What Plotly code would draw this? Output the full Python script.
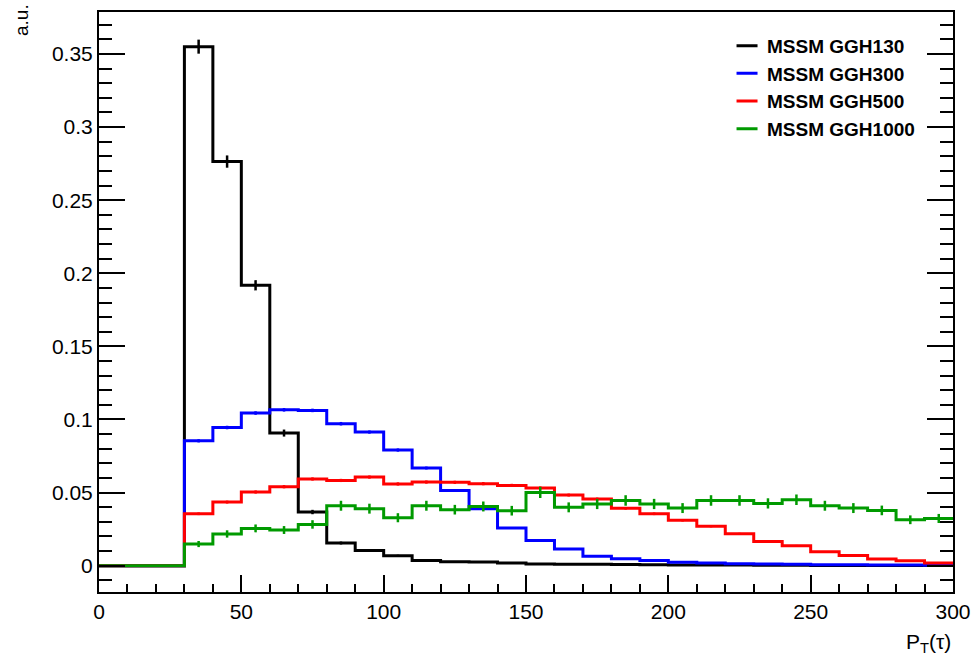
import plotly.graph_objects as go

# Bin edges (GeV): 30 bins of width 10 from 0 to 300
bin_edges = list(range(0, 310, 10))
bin_centers = [e + 5 for e in bin_edges[:-1]]

names = ["MSSM GGH130", "MSSM GGH300", "MSSM GGH500", "MSSM GGH1000"]
colors = ["#000000", "#0000ff", "#ff0000", "#009a00"]

ggh130 = [0, 0, 0, 0.355, 0.2764, 0.1918, 0.0907, 0.0367, 0.0155, 0.0103,
          0.0068, 0.0036, 0.0027, 0.0025, 0.0018, 0.0012, 0.0010, 0.0009, 0.0008, 0.0006,
          0.0005, 0.0004, 0.0004, 0.0003, 0.0003, 0.0002, 0.0002, 0.0002, 0.0001, 0.0001]
ggh130_err = [0, 0, 0, 0.0048, 0.0042, 0.0035, 0.0024, 0.0015, 0.0010, 0.0008,
              0.0007, 0.0005, 0.0004, 0.0004, 0.0003, 0.0003, 0.0002, 0.0002, 0.0002, 0.0002,
              0.0002, 0.0001, 0.0001, 0.0001, 0.0001, 0.0001, 0.0001, 0.0001, 0.0001, 0.0001]

ggh300 = [0, 0, 0, 0.0854, 0.0945, 0.1044, 0.1066, 0.1062, 0.0971, 0.0914,
          0.0791, 0.0668, 0.0515, 0.0390, 0.0258, 0.0173, 0.0114, 0.0064, 0.0048, 0.0036,
          0.0023, 0.0018, 0.0014, 0.0011, 0.0009, 0.0007, 0.0006, 0.0005, 0.0004, 0.0003]
ggh300_err = [0, 0, 0, 0.0011, 0.0012, 0.0012, 0.0012, 0.0012, 0.0012, 0.0011,
              0.0011, 0.0010, 0.0009, 0.0008, 0.0006, 0.0005, 0.0004, 0.0003, 0.0002, 0.0002,
              0.0002, 0.0002, 0.0001, 0.0001, 0.0001, 0.0001, 0.0001, 0.0001, 0.0001, 0.0001]

ggh500 = [0, 0, 0, 0.0355, 0.0435, 0.0504, 0.0540, 0.0593, 0.0583, 0.0606,
          0.0559, 0.0572, 0.0570, 0.0561, 0.0549, 0.0532, 0.0483, 0.0456, 0.0392, 0.0355,
          0.0310, 0.0269, 0.0219, 0.0166, 0.0137, 0.0096, 0.0070, 0.0046, 0.0034, 0.0018]
ggh500_err = [0, 0, 0, 0.0009, 0.0010, 0.0011, 0.0011, 0.0011, 0.0011, 0.0011,
              0.0011, 0.0011, 0.0011, 0.0011, 0.0011, 0.0010, 0.0010, 0.0010, 0.0009, 0.0009,
              0.0008, 0.0007, 0.0006, 0.0005, 0.0005, 0.0004, 0.0003, 0.0003, 0.0002, 0.0002]

ggh1000 = [0, 0, 0, 0.0148, 0.0217, 0.0255, 0.0244, 0.0282, 0.0410, 0.0390,
           0.0328, 0.0410, 0.0383, 0.0405, 0.0376, 0.0501, 0.0399, 0.0422, 0.0446, 0.0422,
           0.0394, 0.0446, 0.0446, 0.0426, 0.0451, 0.0410, 0.0394, 0.0378, 0.0314, 0.0323]
ggh1000_err = [0, 0, 0, 0.0021, 0.0025, 0.0027, 0.0027, 0.0029, 0.0034, 0.0034,
               0.0031, 0.0034, 0.0033, 0.0034, 0.0033, 0.0038, 0.0034, 0.0035, 0.0036, 0.0035,
               0.0034, 0.0036, 0.0036, 0.0035, 0.0036, 0.0034, 0.0034, 0.0033, 0.0030, 0.0031]

series = [ggh130, ggh300, ggh500, ggh1000]
errors = [ggh130_err, ggh300_err, ggh500_err, ggh1000_err]

y_tickvals = [0, 0.05, 0.1, 0.15, 0.2, 0.25, 0.3, 0.35]
y_ticktext = ["0", "0.05", "0.1", "0.15", "0.2", "0.25", "0.3", "0.35"]
x_tickvals = [0, 50, 100, 150, 200, 250, 300]
x_ticktext = ["0", "50", "100", "150", "200", "250", "300"]

FONT = "Liberation Sans, Arial, Helvetica, sans-serif"

fig = go.Figure()
for name, col, vals, errs in zip(names, colors, series, errors):
    fig.add_trace(go.Scatter(
        x=bin_edges, y=vals + [vals[-1]], mode="lines", line_shape="hv",
        line=dict(color=col, width=3), name=name, showlegend=False,
        legendgroup=name,
    ))
    fig.add_trace(go.Scatter(
        x=bin_centers, y=vals, mode="markers",
        marker=dict(size=0.1, color=col),
        error_y=dict(type="data", array=errs, visible=True, color=col,
                     thickness=2.5, width=0),
        showlegend=False, hoverinfo="skip", legendgroup=name,
    ))

# legend entries (short line swatches like the original)
for name, col in zip(names, colors):
    fig.add_trace(go.Scatter(
        x=[None], y=[None], mode="markers", name=name, legendgroup=name,
        marker=dict(symbol="line-ew-open", size=15, color=col,
                    line=dict(color=col, width=3)),
        showlegend=True,
    ))

fig.update_layout(
    width=975, height=658,
    margin=dict(l=99, r=22, t=12, b=66, autoexpand=False),
    paper_bgcolor="white", plot_bgcolor="white",
    font=dict(family=FONT, color="black", size=21),
    legend=dict(
        x=0.7354, y=0.9745, xanchor="left", yanchor="top",
        bgcolor="rgba(0,0,0,0)",
        font=dict(family=FONT, size=19, color="black", weight="bold"),
        itemwidth=30, tracegroupgap=0,
    ),
    xaxis=dict(
        range=[0, 300], showgrid=False, zeroline=False, automargin=False,
        showline=True, linecolor="black", linewidth=2, mirror=True,
        ticks="inside", ticklen=17, tickwidth=2, tickcolor="black",
        tickvals=x_tickvals, ticktext=x_ticktext,
        tickfont=dict(family=FONT, size=21, color="black"),
        minor=dict(ticks="inside", ticklen=8, tickwidth=2, tickcolor="black",
                   dtick=10, tick0=0, showgrid=False),
    ),
    yaxis=dict(
        range=[-0.018, 0.3787], showgrid=False, zeroline=False, automargin=False,
        showline=True, linecolor="black", linewidth=2, mirror="allticks",
        ticks="inside", ticklen=26, tickwidth=2, tickcolor="black",
        tickvals=y_tickvals, ticktext=y_ticktext,
        tickfont=dict(family=FONT, size=21, color="black"),
        minor=dict(ticks="inside", ticklen=13, tickwidth=2, tickcolor="black",
                   dtick=0.01, tick0=0, showgrid=False),
    ),
    annotations=[
        dict(text="P<sub>T</sub>(τ)", x=1, xref="paper", xanchor="right",
             y=0, yref="paper", yanchor="top", yshift=-36, showarrow=False,
             font=dict(family=FONT, size=21, color="black")),
        dict(text="a.u.", x=0, xref="paper", xanchor="center", xshift=-78,
             y=1, yref="paper", yanchor="top", yshift=10, textangle=-90,
             showarrow=False, font=dict(family=FONT, size=19, color="black")),
    ],
)

fig.write_html("out.html")
